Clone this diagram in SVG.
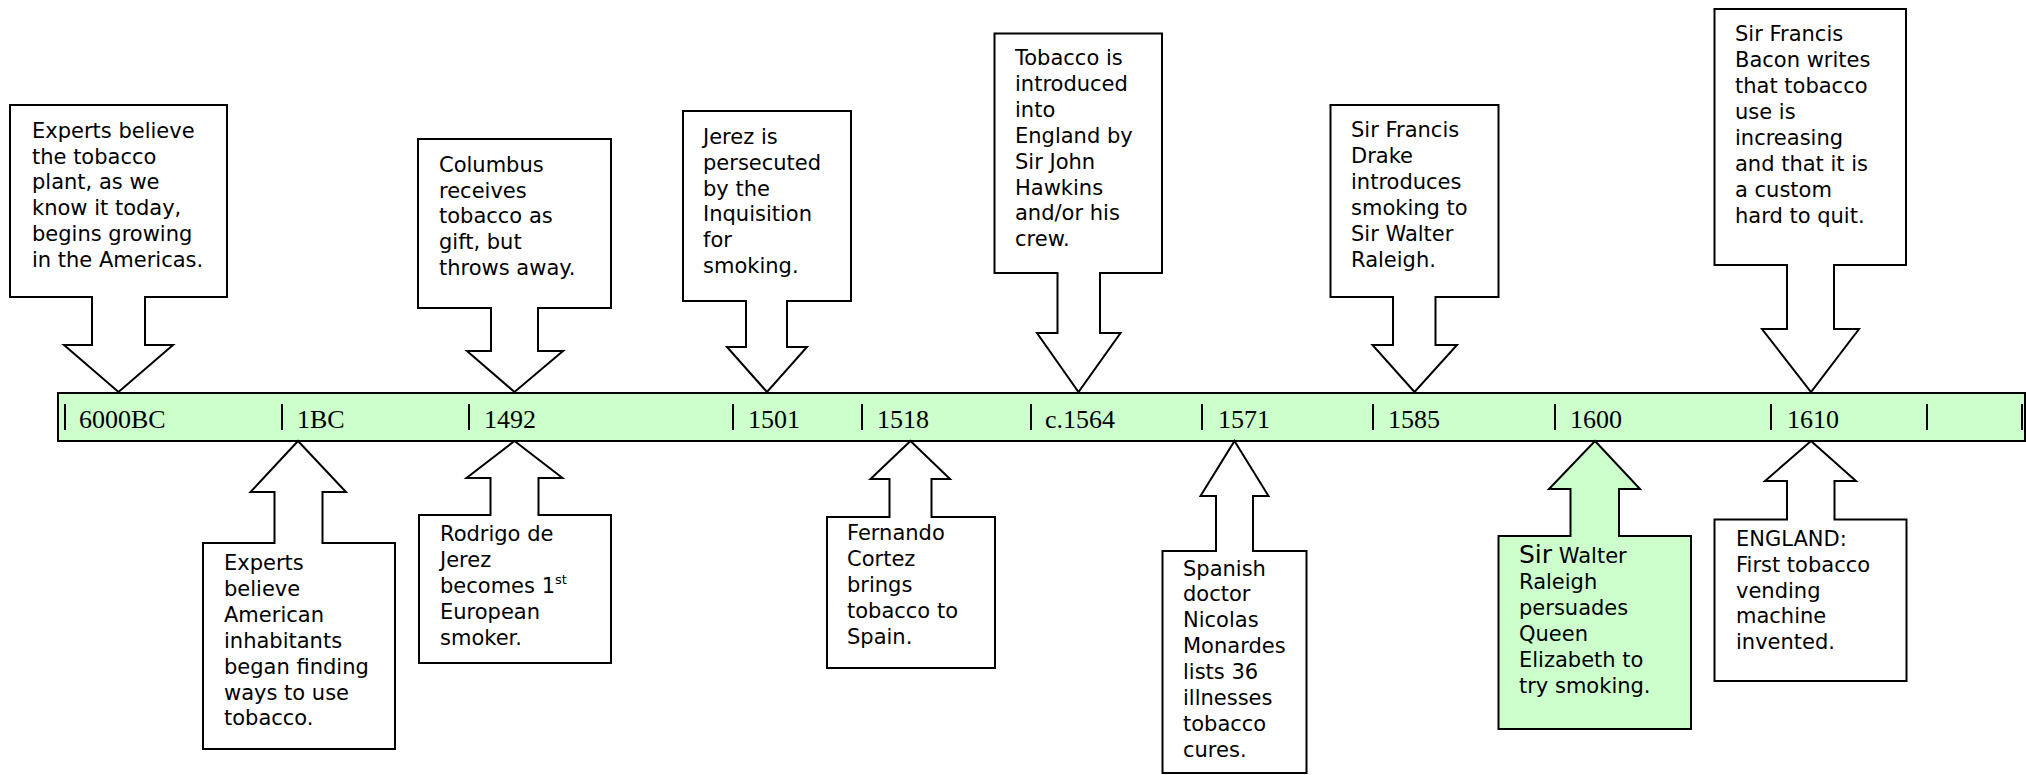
<svg xmlns="http://www.w3.org/2000/svg" width="2026" height="775" viewBox="0 0 2026 775">
<style>
  .co { fill: #ffffff; stroke: #000; stroke-width: 2; stroke-linejoin: miter; }
  .cog { fill: #ccffcc; stroke: #000; stroke-width: 2; stroke-linejoin: miter; }
  .bar { fill: #ccffcc; stroke: #000; stroke-width: 2; }
  .tick { stroke: #000; stroke-width: 2; }
  .t { font-family: "DejaVu Sans", Verdana, sans-serif; font-size: 21px; fill: #000; }
  .yr { font-family: "Liberation Serif", "Times New Roman", serif; font-size: 26px; fill: #000; }
  .sup { font-size: 13px; }
</style>
<rect width="2026" height="775" fill="#ffffff"/>

<g id="timeline">
  <rect class="bar" x="58" y="393" width="1967" height="48"/>
  <g id="ticks">
    <line class="tick" x1="65" y1="404" x2="65" y2="430"/>
    <line class="tick" x1="282" y1="404" x2="282" y2="430"/>
    <line class="tick" x1="469" y1="404" x2="469" y2="430"/>
    <line class="tick" x1="733" y1="404" x2="733" y2="430"/>
    <line class="tick" x1="862" y1="404" x2="862" y2="430"/>
    <line class="tick" x1="1031" y1="404" x2="1031" y2="430"/>
    <line class="tick" x1="1202" y1="404" x2="1202" y2="430"/>
    <line class="tick" x1="1373" y1="404" x2="1373" y2="430"/>
    <line class="tick" x1="1555" y1="404" x2="1555" y2="430"/>
    <line class="tick" x1="1771" y1="404" x2="1771" y2="430"/>
    <line class="tick" x1="1927" y1="404" x2="1927" y2="430"/>
    <line class="tick" x1="2022" y1="404" x2="2022" y2="430"/>
  </g>
  <text class="yr" x="79" y="428">6000BC</text>
  <text class="yr" x="297" y="428">1BC</text>
  <text class="yr" x="484" y="428">1492</text>
  <text class="yr" x="748" y="428">1501</text>
  <text class="yr" x="877" y="428">1518</text>
  <text class="yr" x="1045" y="428">c.1564</text>
  <text class="yr" x="1218" y="428">1571</text>
  <text class="yr" x="1388" y="428">1585</text>
  <text class="yr" x="1570" y="428">1600</text>
  <text class="yr" x="1787" y="428">1610</text>
</g>

<g id="connectors"></g>

<g id="ev-6000bc">
  <path class="co" d="M10,105 H227 V297 H145 V345 H173 L118.5,392 L64,345 H92 V297 H10 Z"/>
  <text class="t" x="32" y="137.7">
    <tspan x="32" dy="0">Experts believe</tspan>
    <tspan x="32" dy="25.8">the tobacco</tspan>
    <tspan x="32" dy="25.8">plant, as we</tspan>
    <tspan x="32" dy="25.8">know it today,</tspan>
    <tspan x="32" dy="25.8">begins growing</tspan>
    <tspan x="32" dy="25.8">in the Americas.</tspan>
  </text>
</g>

<g id="ev-1492-top">
  <path class="co" d="M418,139 H611 V308 H538 V351 H563 L514.5,392 L467,351 H491 V308 H418 Z"/>
  <text class="t" x="439" y="171.7">
    <tspan x="439" dy="0">Columbus</tspan>
    <tspan x="439" dy="25.8">receives</tspan>
    <tspan x="439" dy="25.8">tobacco as</tspan>
    <tspan x="439" dy="25.8">gift, but</tspan>
    <tspan x="439" dy="25.8">throws away.</tspan>
  </text>
</g>

<g id="ev-1501">
  <path class="co" d="M683,111 H851 V301 H787 V347 H807 L767,392 L727,347 H746 V301 H683 Z"/>
  <text class="t" x="703" y="144">
    <tspan x="703" dy="0">Jerez is</tspan>
    <tspan x="703" dy="25.8">persecuted</tspan>
    <tspan x="703" dy="25.8">by the</tspan>
    <tspan x="703" dy="25.8">Inquisition</tspan>
    <tspan x="703" dy="25.8">for</tspan>
    <tspan x="703" dy="25.8">smoking.</tspan>
  </text>
</g>

<g id="ev-1564">
  <path class="co" d="M994.5,33.5 H1162 V273 H1100 V333 H1120.5 L1078.5,392 L1037,333 H1057.5 V273 H994.5 Z"/>
  <text class="t" x="1015" y="65">
    <tspan x="1015" dy="0">Tobacco is</tspan>
    <tspan x="1015" dy="25.9">introduced</tspan>
    <tspan x="1015" dy="25.9">into</tspan>
    <tspan x="1015" dy="25.9">England by</tspan>
    <tspan x="1015" dy="25.9">Sir John</tspan>
    <tspan x="1015" dy="25.9">Hawkins</tspan>
    <tspan x="1015" dy="25.9">and/or his</tspan>
    <tspan x="1015" dy="25.9">crew.</tspan>
  </text>
</g>

<g id="ev-1585">
  <path class="co" d="M1330.5,105 H1498.5 V297 H1435.5 V345 H1457 L1414.5,392 L1372.5,345 H1393 V297 H1330.5 Z"/>
  <text class="t" x="1351" y="137.3">
    <tspan x="1351" dy="0">Sir Francis</tspan>
    <tspan x="1351" dy="25.9">Drake</tspan>
    <tspan x="1351" dy="25.9">introduces</tspan>
    <tspan x="1351" dy="25.9">smoking to</tspan>
    <tspan x="1351" dy="25.9">Sir Walter</tspan>
    <tspan x="1351" dy="25.9">Raleigh.</tspan>
  </text>
</g>

<g id="ev-1610-top">
  <path class="co" d="M1714.5,9 H1906 V265 H1834 V329 H1859 L1811,392 L1762,329 H1787 V265 H1714.5 Z"/>
  <text class="t" x="1735" y="40.7">
    <tspan x="1735" dy="0">Sir Francis</tspan>
    <tspan x="1735" dy="26">Bacon writes</tspan>
    <tspan x="1735" dy="26">that tobacco</tspan>
    <tspan x="1735" dy="26">use is</tspan>
    <tspan x="1735" dy="26">increasing</tspan>
    <tspan x="1735" dy="26">and that it is</tspan>
    <tspan x="1735" dy="26">a custom</tspan>
    <tspan x="1735" dy="26">hard to quit.</tspan>
  </text>
</g>

<g id="ev-1bc">
  <path class="co" d="M298,441 L346,492 H322.5 V543 H395 V749 H203 V543 H274.5 V492 H250.5 Z"/>
  <text class="t" x="224" y="570">
    <tspan x="224" dy="0">Experts</tspan>
    <tspan x="224" dy="25.9">believe</tspan>
    <tspan x="224" dy="25.9">American</tspan>
    <tspan x="224" dy="25.9">inhabitants</tspan>
    <tspan x="224" dy="25.9">began finding</tspan>
    <tspan x="224" dy="25.9">ways to use</tspan>
    <tspan x="224" dy="25.9">tobacco.</tspan>
  </text>
</g>

<g id="ev-1492-bottom">
  <path class="co" d="M514.5,441 L562.5,478 H538.5 V515 H611 V663 H419 V515 H490.5 V478 H466.5 Z"/>
  <text class="t" x="440" y="541">
    <tspan x="440" dy="0">Rodrigo de</tspan>
    <tspan x="440" dy="25.9">Jerez</tspan>
    <tspan x="440" dy="25.9">becomes 1</tspan><tspan class="sup" dy="-9">st</tspan>
    <tspan x="440" dy="34.9">European</tspan>
    <tspan x="440" dy="25.9">smoker.</tspan>
  </text>
</g>

<g id="ev-1518">
  <path class="co" d="M910.5,441 L950,479 H931.5 V517 H995 V668 H827 V517 H889.5 V479 H870.5 Z"/>
  <text class="t" x="847" y="540">
    <tspan x="847" dy="0">Fernando</tspan>
    <tspan x="847" dy="25.9">Cortez</tspan>
    <tspan x="847" dy="25.9">brings</tspan>
    <tspan x="847" dy="25.9">tobacco to</tspan>
    <tspan x="847" dy="25.9">Spain.</tspan>
  </text>
</g>

<g id="ev-1571">
  <path class="co" d="M1234.5,441 L1268.5,496 H1253 V551 H1306.5 V773 H1162.5 V551 H1216 V496 H1200.5 Z"/>
  <text class="t" x="1183" y="575.5">
    <tspan x="1183" dy="0">Spanish</tspan>
    <tspan x="1183" dy="25.9">doctor</tspan>
    <tspan x="1183" dy="25.9">Nicolas</tspan>
    <tspan x="1183" dy="25.9">Monardes</tspan>
    <tspan x="1183" dy="25.9">lists 36</tspan>
    <tspan x="1183" dy="25.9">illnesses</tspan>
    <tspan x="1183" dy="25.9">tobacco</tspan>
    <tspan x="1183" dy="25.9">cures.</tspan>
  </text>
</g>

<g id="ev-1600">
  <path class="cog" d="M1595,441 L1640,489 H1619 V536 H1691 V729 H1498.5 V536 H1570.5 V489 H1549 Z"/>
  <text class="t" x="1519" y="563.3">
    <tspan x="1519" dy="0"><tspan font-size="25">Sir</tspan> Walter</tspan>
    <tspan x="1519" dy="25.9">Raleigh</tspan>
    <tspan x="1519" dy="25.9">persuades</tspan>
    <tspan x="1519" dy="25.9">Queen</tspan>
    <tspan x="1519" dy="25.9">Elizabeth to</tspan>
    <tspan x="1519" dy="25.9">try smoking.</tspan>
  </text>
</g>

<g id="ev-1610-bottom">
  <path class="co" d="M1811,441 L1856,481 H1834.5 V519.5 H1906.5 V681 H1714.5 V519.5 H1787 V481 H1765 Z"/>
  <text class="t" x="1736" y="545.7">
    <tspan x="1736" dy="0">ENGLAND:</tspan>
    <tspan x="1736" dy="25.9">First tobacco</tspan>
    <tspan x="1736" dy="25.9">vending</tspan>
    <tspan x="1736" dy="25.9">machine</tspan>
    <tspan x="1736" dy="25.9">invented.</tspan>
  </text>
</g>
</svg>
